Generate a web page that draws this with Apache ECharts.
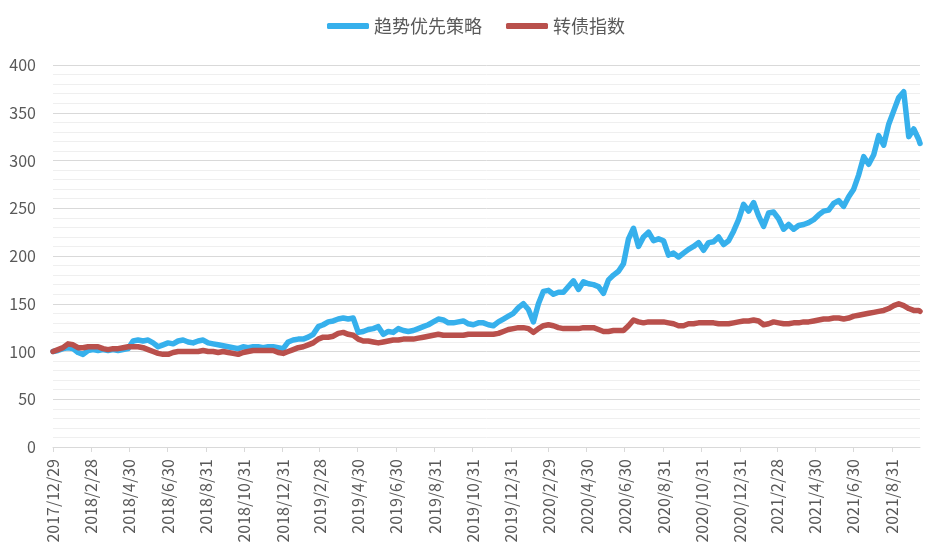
<!DOCTYPE html>
<html>
<head>
<meta charset="utf-8">
<script src="https://cdn.jsdelivr.net/npm/echarts@6/dist/echarts.min.js"></script>
<style>
html,body{margin:0;padding:0;background:#fff;overflow:hidden;}
#chart{width:935px;height:551px;}
</style>
</head>
<body>
<div id="chart"></div>
<script>
// ---- data ----
const seriesNames = ['趋势优先策略', '转债指数'];
const startDate = '2017/12/29';
const endDate = '2021/10/15';
const tickLabels = ['2017/12/29','2018/2/28','2018/4/30','2018/6/30','2018/8/31','2018/10/31','2018/12/31','2019/2/28','2019/4/30','2019/6/30','2019/8/31','2019/10/31','2019/12/31','2020/2/29','2020/4/30','2020/6/30','2020/8/31','2020/10/31','2020/12/31','2021/2/28','2021/4/30','2021/6/30','2021/8/31'];
const yTicks = [0, 50, 100, 150, 200, 250, 300, 350, 400];

const sampleDates = [
'2017/12/29','2018/1/6','2018/1/14','2018/1/22','2018/1/30','2018/2/7','2018/2/15','2018/2/23','2018/3/3','2018/3/11','2018/3/19','2018/3/27','2018/4/4','2018/4/12','2018/4/20','2018/4/28','2018/5/6','2018/5/14','2018/5/22','2018/5/30','2018/6/7','2018/6/15','2018/6/23','2018/7/1','2018/7/9','2018/7/17','2018/7/25','2018/8/2','2018/8/10','2018/8/18','2018/8/26','2018/9/3','2018/9/11','2018/9/19','2018/9/27','2018/10/5','2018/10/13','2018/10/21','2018/10/29','2018/11/6','2018/11/14','2018/11/22','2018/11/30','2018/12/8','2018/12/16','2018/12/24',
'2019/1/1','2019/1/9','2019/1/17','2019/1/25','2019/2/2','2019/2/10','2019/2/18','2019/2/26','2019/3/6','2019/3/14','2019/3/22','2019/3/30','2019/4/7','2019/4/15','2019/4/23','2019/5/1','2019/5/9','2019/5/17','2019/5/25','2019/6/2','2019/6/10','2019/6/18','2019/6/26','2019/7/4','2019/7/12','2019/7/20','2019/7/28','2019/8/5','2019/8/13','2019/8/21','2019/8/29','2019/9/6','2019/9/14','2019/9/22','2019/9/30','2019/10/8','2019/10/16','2019/10/24','2019/11/1','2019/11/9','2019/11/17','2019/11/25','2019/12/3','2019/12/11','2019/12/19','2019/12/27',
'2020/1/4','2020/1/12','2020/1/20','2020/1/28','2020/2/5','2020/2/13','2020/2/21','2020/2/29','2020/3/8','2020/3/16','2020/3/24','2020/4/1','2020/4/9','2020/4/17','2020/4/25','2020/5/3','2020/5/11','2020/5/19','2020/5/27','2020/6/4','2020/6/12','2020/6/20','2020/6/28','2020/7/6','2020/7/14','2020/7/22','2020/7/30','2020/8/7','2020/8/15','2020/8/23','2020/8/31','2020/9/8','2020/9/16','2020/9/24','2020/10/2','2020/10/10','2020/10/18','2020/10/26','2020/11/3','2020/11/11','2020/11/19','2020/11/27','2020/12/5','2020/12/13','2020/12/21','2020/12/29',
'2021/1/6','2021/1/14','2021/1/22','2021/1/30','2021/2/7','2021/2/15','2021/2/23','2021/3/3','2021/3/11','2021/3/19','2021/3/27','2021/4/4','2021/4/12','2021/4/20','2021/4/28','2021/5/6','2021/5/14','2021/5/22','2021/5/30','2021/6/7','2021/6/15','2021/6/23','2021/7/1','2021/7/9','2021/7/17','2021/7/25','2021/8/2','2021/8/10','2021/8/18','2021/8/26','2021/9/3','2021/9/11','2021/9/19','2021/9/27','2021/10/5','2021/10/13','2021/10/15'
];

const strategyValues = [
100,101,103,104,103,99,97,101,102,101,102,101,102,101,102,103,111,112,111,112,109,105,107,109,108,111,112,110,109,111,112,109,108,107,106,105,104,103,105,104,105,105,104,105,105,104,
103,110,112,113,113,115,118,126,128,131,132,134,135,134,135,120,121,123,124,126,118,121,120,124,122,121,122,124,126,128,131,134,133,130,130,131,132,129,128,130,130,128,127,131,134,137,
140,146,150,144,131,150,163,164,160,162,162,168,174,165,173,171,170,168,161,175,180,184,192,218,229,210,220,225,216,218,216,201,203,199,203,207,210,214,206,214,215,220,212,216,226,238,
254,247,256,242,231,245,246,239,228,233,228,232,233,235,238,243,247,248,255,258,252,262,270,285,304,296,306,326,316,338,352,366,372,325,333,322,318
];

const bondIndexValues = [
100,102,104,108,107,104,104,105,105,105,103,102,103,103,104,105,105,105,104,102,100,98,97,97,99,100,100,100,100,100,101,100,100,99,100,99,98,97,99,100,101,101,101,101,101,99,
98,100,102,104,105,107,109,113,115,115,116,119,120,118,117,113,111,111,110,109,110,111,112,112,113,113,113,114,115,116,117,118,117,117,117,117,117,118,118,118,118,118,118,119,121,123,
124,125,125,124,120,124,127,128,127,125,124,124,124,124,125,125,125,123,121,121,122,122,122,127,133,131,130,131,131,131,131,130,129,127,127,129,129,130,130,130,130,129,129,129,130,131,
132,132,133,132,128,129,131,130,129,129,130,130,131,131,132,133,134,134,135,135,134,135,137,138,139,140,141,142,143,145,148,150,148,145,143,143,142
];

// ---- calendar-day category axis ----
function parseD(s){ const p = s.split('/').map(Number); return Date.UTC(p[0], p[1]-1, p[2]); }
function fmtD(t){ const d = new Date(t); return d.getUTCFullYear() + '/' + (d.getUTCMonth()+1) + '/' + d.getUTCDate(); }
const categories = [];
for (let t = parseD(startDate); t <= parseD(endDate); t += 86400000) categories.push(fmtD(t));
const catIndex = {};
categories.forEach((c, i) => { catIndex[c] = i; });
const tickSet = new Set(tickLabels);

const strategyData = sampleDates.map((d, i) => [catIndex[d], strategyValues[i]]);
const bondData = sampleDates.map((d, i) => [catIndex[d], bondIndexValues[i]]);

const chart = echarts.init(document.getElementById('chart'), null, {renderer: 'canvas'});
const font = "'Noto Sans CJK SC', 'Noto Sans', sans-serif";
chart.setOption({
  animation: false,
  backgroundColor: '#ffffff',
  textStyle: { fontFamily: font },
  legend: {
    top: 12,
    left: 322,
    icon: 'roundRect',
    itemWidth: 42,
    itemHeight: 6,
    itemGap: 24,
    textStyle: { fontSize: 18, color: '#595959', fontFamily: font },
    data: seriesNames
  },
  grid: { left: 53, right: 15, top: 65, bottom: 104, containLabel: false },
  xAxis: {
    type: 'category',
    data: categories,
    boundaryGap: false,
    axisLine: { lineStyle: { color: '#d9d9d9', width: 1 } },
    axisTick: { show: true, length: 5, interval: (i, v) => tickSet.has(v), lineStyle: { color: '#d9d9d9' } },
    axisLabel: { interval: (i, v) => tickSet.has(v), rotate: 90, color: '#595959', fontSize: 16, margin: 12, fontFamily: font },
    splitLine: { show: false }
  },
  yAxis: {
    type: 'value',
    min: yTicks[0],
    max: yTicks[yTicks.length - 1],
    interval: 50,
    axisLine: { show: false },
    axisTick: { show: false },
    axisLabel: { color: '#595959', fontSize: 16, margin: 17, fontFamily: font },
    splitLine: { show: true, lineStyle: { color: '#d9d9d9', width: 1 } },
    minorTick: { show: false, splitNumber: 5 },
    minorSplitLine: { show: true, lineStyle: { color: '#efefef', width: 1 } }
  },
  series: [
    {
      name: seriesNames[0],
      type: 'line',
      data: strategyData,
      showSymbol: false,
      symbol: 'none',
      lineStyle: { color: '#36b0ec', width: 5.5, join: 'round', cap: 'round' },
      itemStyle: { color: '#36b0ec' },
      z: 2
    },
    {
      name: seriesNames[1],
      type: 'line',
      data: bondData,
      showSymbol: false,
      symbol: 'none',
      lineStyle: { color: '#b9504c', width: 5.5, join: 'round', cap: 'round' },
      itemStyle: { color: '#b9504c' },
      z: 3
    }
  ]
});
</script>
</body>
</html>
